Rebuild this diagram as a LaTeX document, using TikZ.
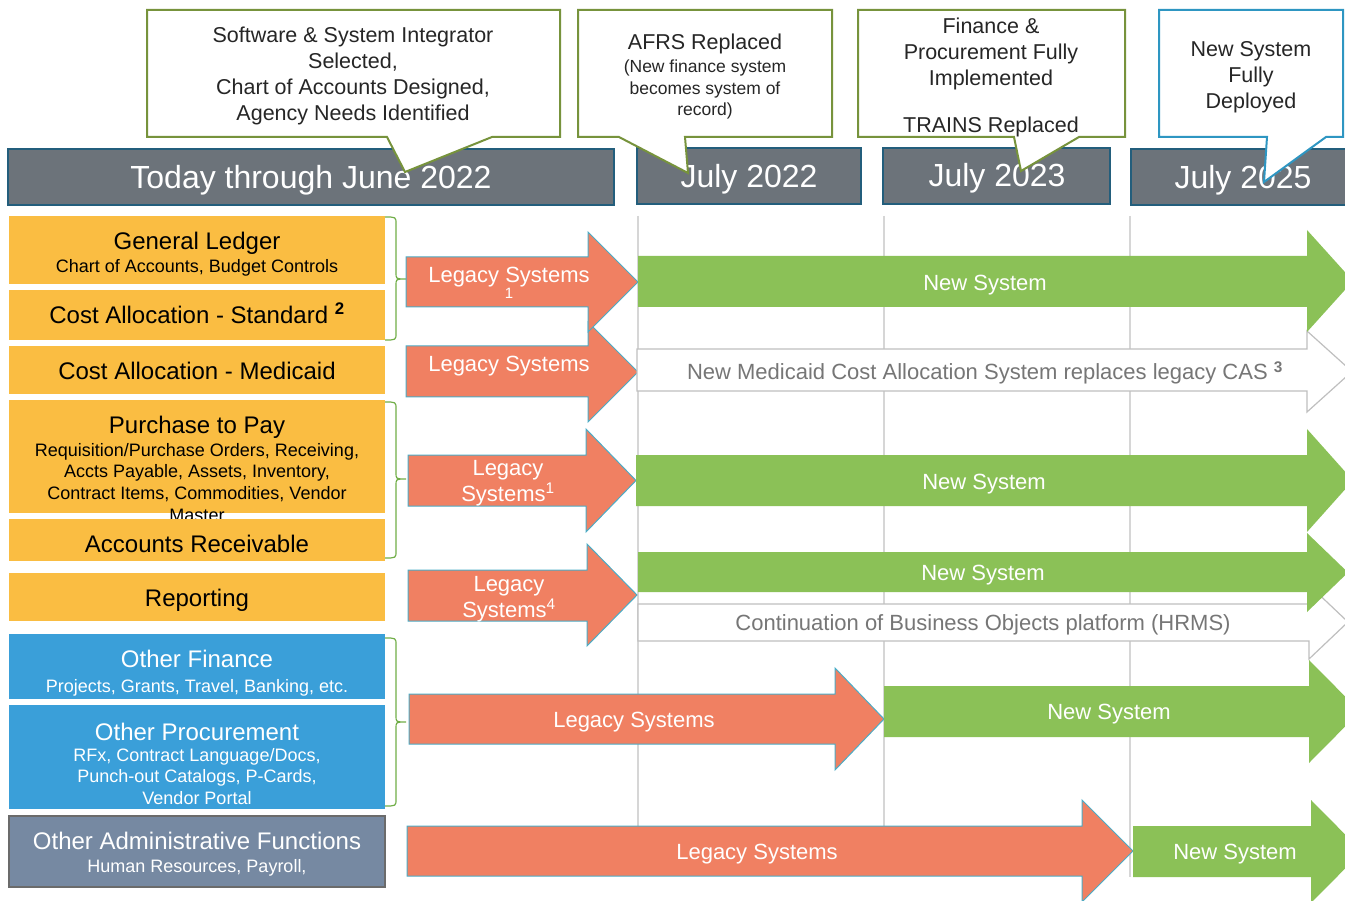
\documentclass[tikz,border=0pt]{standalone}
\usepackage{fontspec}
\setmainfont{Liberation Sans}
\definecolor{hdr}{HTML}{6C737A}
\definecolor{hdrb}{HTML}{235E7C}
\definecolor{olive}{HTML}{77933C}
\definecolor{cblue}{HTML}{2E96C2}
\definecolor{yel}{HTML}{FABD42}
\definecolor{bluebox}{HTML}{3A9FD9}
\definecolor{admin}{HTML}{7689A2}
\definecolor{adminb}{HTML}{6B6B6B}
\definecolor{salmon}{HTML}{F08062}
\definecolor{tealb}{HTML}{4BACC6}
\definecolor{grn}{HTML}{8BC157}
\definecolor{gridc}{HTML}{D6D6D6}
\definecolor{wout}{HTML}{BFBFBF}
\definecolor{wtxt}{HTML}{767676}
\definecolor{ctxt}{HTML}{262626}
\definecolor{bracec}{HTML}{70AD47}
\newcommand\blkarrow[8]{\path[#1] (#2,#5) -- (#3,#5) -- (#3,#7) -- (#4,{(#7+#8)/2}) -- (#3,#8) -- (#3,#6) -- (#2,#6) -- cycle;}
\newcommand\mybrace[3]{\draw[bracestyle] (385,#1) .. controls (396,#1) .. (396,#1+7) -- (396,#2-6) .. controls (396,#2) .. (406,#2) .. controls (396,#2) .. (396,#2+6) -- (396,#3-7) .. controls (396,#3) .. (385,#3);}
\begin{document}
\begin{tikzpicture}[x=1pt,y=-1pt,
  hdrbar/.style={fill=hdr,draw=hdrb,line width=2pt},
  hdrtxt/.style={text=white,inner sep=0pt,yshift=-2.5pt,font=\fontsize{32}{36}\selectfont},
  callg/.style={fill=white,draw=olive,line width=2pt},
  callb/.style={fill=white,draw=cblue,line width=2pt},
  ctext/.style={text=ctxt,inner sep=0pt,yshift=-2pt,align=center,font=\fontsize{21.5}{26}\selectfont},
  csmall/.style={text=ctxt,inner sep=0pt,yshift=-1.5pt,align=center,font=\fontsize{17.5}{21.5}\selectfont},
  ybox/.style={fill=yel},
  bbox/.style={fill=bluebox},
  abox/.style={fill=admin,draw=adminb,line width=2pt},
  big/.style={inner sep=0pt,yshift=-2pt,align=center,font=\fontsize{24}{28}\selectfont},
  small/.style={inner sep=0pt,yshift=-2pt,align=center,font=\fontsize{18}{21.6}\selectfont},
  legacy/.style={fill=salmon,draw=tealb,line width=1pt},
  newsys/.style={fill=grn},
  wsys/.style={fill=white,draw=wout,line width=1.2pt},
  atext/.style={text=white,inner sep=0pt,yshift=-2pt,align=center,font=\fontsize{22}{26}\selectfont},
  wtext/.style={text=wtxt,inner sep=0pt,yshift=-2pt,font=\fontsize{22}{26}\selectfont},
  gridline/.style={draw=gridc,line width=1.2pt},
  bracestyle/.style={draw=bracec,line width=1.2pt}]
\useasboundingbox (0,0) rectangle (1345,901);
\begin{scope}
\clip (0,0) rectangle (1345,901);
% header bars
\path[hdrbar] (8,149) rectangle (614,205);
\path[hdrbar] (637,148) rectangle (861,204);
\path[hdrbar] (883,148) rectangle (1110,204);
\path[hdrbar] (1131,149) rectangle (1352,205);
\node[hdrtxt] (h1) at (311,178) {Today through June 2022};
\node[hdrtxt] (h2) at (749,177) {July 2022};
\node[hdrtxt] (h3) at (997,176) {July 2023};
\node[hdrtxt] (h4) at (1243,178) {July 2025};
% callouts
\path[callg] (147,10) -- (560,10) -- (560,137) -- (492,137) -- (405,172) -- (387,137) -- (147,137) -- cycle;
\path[callg] (578,10) -- (832,10) -- (832,137) -- (685,137) -- (688,173) -- (619,137) -- (578,137) -- cycle;
\path[callg] (858,10) -- (1125,10) -- (1125,137) -- (1079,137) -- (1021,171) -- (1014,137) -- (858,137) -- cycle;
\path[callb] (1159,10) -- (1343,10) -- (1343,137) -- (1326,137) -- (1264,182) -- (1267,137) -- (1159,137) -- cycle;
\node[ctext] (c1) at (353,74) {Software \& System Integrator\\Selected,\\Chart of Accounts Designed,\\Agency Needs Identified};
\node[ctext] (c2a) at (705,42) {AFRS Replaced};
\node[csmall] (c2b) at (705,88) {(New finance system\\becomes system of\\record)};
\node[ctext] (c3a) at (991,52) {Finance \&\\Procurement Fully\\Implemented};
\node[ctext] (c3b) at (991,125) {TRAINS Replaced};
\node[ctext] (c4) at (1251,75) {New System\\Fully\\Deployed};
% grid lines
\draw[gridline] (638,216) -- (638,826);
\draw[gridline] (884,216) -- (884,826);
\draw[gridline] (1130,216) -- (1130,877);
% left boxes
\path[ybox] (9,216) rectangle (385,284);
\node[big] (gl) at (197,241) {General Ledger};
\node[small] (gls) at (197,266) {Chart of Accounts, Budget Controls};
\path[ybox] (9,290) rectangle (385,340);
\node[big] (cas) at (197,311) {Cost Allocation - Standard \textsuperscript{\bfseries 2}};
\path[ybox] (9,346) rectangle (385,394);
\node[big] (cam) at (197,369) {Cost Allocation - Medicaid};
\path[ybox] (9,400) rectangle (385,513);
\node[big] (p2p) at (197,425) {Purchase to Pay};
\node[small,anchor=north] (p2ps) at (197,441) {Requisition/Purchase Orders, Receiving,\\Accts Payable, Assets, Inventory,\\Contract Items, Commodities, Vendor\\Master};
\path[ybox] (9,519) rectangle (385,561);
\node[big] (ar) at (197,542) {Accounts Receivable};
\path[ybox] (9,573) rectangle (385,621);
\node[big] (rep) at (197,598) {Reporting};
\path[bbox] (9,634) rectangle (385,699);
\node[big,text=white] (of) at (197,657) {Other Finance};
\node[small,text=white] (ofs) at (197,686) {Projects, Grants, Travel, Banking, etc.};
\path[bbox] (9,705) rectangle (385,809);
\node[big,text=white] (op) at (197,730) {Other Procurement};
\node[small,text=white,anchor=north] (ops) at (197,746) {RFx, Contract Language/Docs,\\Punch-out Catalogs, P-Cards,\\Vendor Portal};
\path[abox] (9,816) rectangle (385,887);
\node[big,text=white] (oaf) at (197,839) {Other Administrative Functions};
\node[small,text=white] (oafs) at (197,866) {Human Resources, Payroll,};
% braces
\mybrace{217}{279}{340}
\mybrace{402}{479}{558}
\mybrace{638}{722}{806}
% legacy arrows
\blkarrow{legacy}{406}{588}{638}{346}{397}{322}{422}
\blkarrow{legacy}{406}{588}{638}{257}{307}{232}{332}
\blkarrow{legacy}{408}{586}{636}{455}{506}{429}{532}
\blkarrow{legacy}{408}{587}{637}{570}{621}{544}{646}
\blkarrow{legacy}{409}{835}{884}{694}{744}{668}{770}
\blkarrow{legacy}{407}{1082}{1133}{826}{876}{800}{902}
% new system arrows
\blkarrow{wsys}{637}{1307}{1352}{349}{391}{331}{412}
\blkarrow{wsys}{638}{1309}{1348}{604}{641}{585}{659}
\blkarrow{newsys}{638}{1307}{1353}{256}{307}{230}{332}
\blkarrow{newsys}{636}{1307}{1353}{455}{506}{429}{532}
\blkarrow{newsys}{638}{1307}{1348}{552}{592}{533}{612}
\blkarrow{newsys}{884}{1309}{1360}{686}{737}{660}{763}
\blkarrow{newsys}{1133}{1311}{1362}{826}{877}{800}{903}
% arrow labels
\node[atext] (l1) at (509,275) {Legacy Systems};
\node[atext,font=\fontsize{15}{17}\selectfont] (l1n) at (509,291) {1};
\node[atext] (l2) at (509,364) {Legacy Systems};
\node[atext] (l3) at (508,481) {Legacy\\Systems\textsuperscript{1}};
\node[atext] (l4) at (509,597) {Legacy\\Systems\textsuperscript{4}};
\node[atext] (l5) at (634,720) {Legacy Systems};
\node[atext] (l6) at (757,852) {Legacy Systems};
\node[atext] (n1) at (985,283) {New System};
\node[wtext] (w1) at (985,371) {New Medicaid Cost Allocation System replaces legacy CAS \textsuperscript{\bfseries 3}};
\node[atext] (n2) at (984,482) {New System};
\node[atext] (n3) at (983,573) {New System};
\node[wtext] (w2) at (983,623) {Continuation of Business Objects platform (HRMS)};
\node[atext] (n4) at (1109,712) {New System};
\node[atext] (n5) at (1235,852) {New System};
\end{scope}
\end{tikzpicture}
\end{document}
